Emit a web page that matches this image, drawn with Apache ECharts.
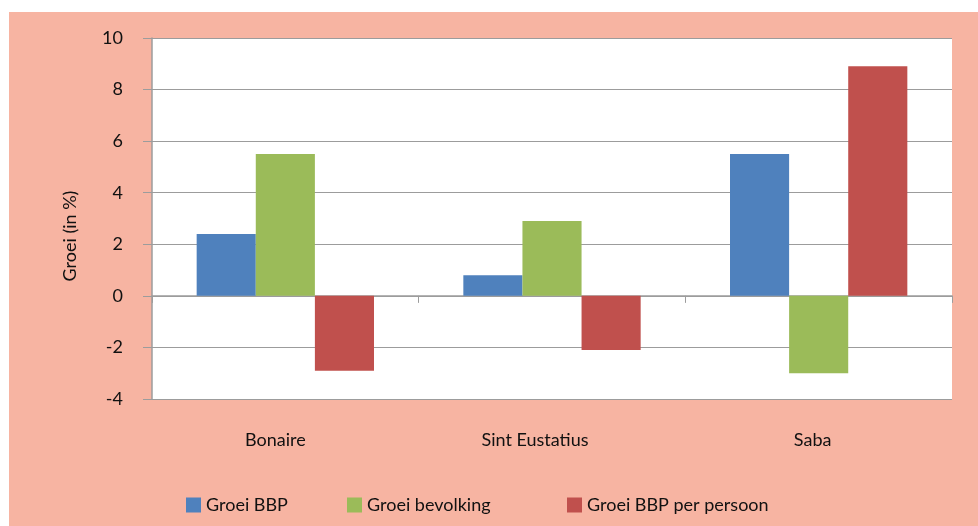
<!DOCTYPE html>
<html>
<head>
<meta charset="utf-8">
<script src="https://cdn.jsdelivr.net/npm/echarts@6/dist/echarts.min.js"></script>
<style>
  html, body { margin: 0; padding: 0; background: #fff; }
  #bg { position: absolute; left: 9px; top: 12px; width: 969px; height: 514px; background: #f7b4a2; }
  #chart { position: absolute; left: 0; top: 0; width: 978px; height: 526px; }
</style>
</head>
<body>
<div id="bg"></div>
<div id="chart"></div>
<script>
    "use strict";

    var islands = ['Bonaire', 'Sint Eustatius', 'Saba'];
    var groeiBBP = [2.4, 0.8, 5.5];
    var groeiBevolking = [5.5, 2.9, -3.0];
    var groeiBBPPerPersoon = [-2.9, -2.1, 8.9];
    var seriesNames = ['Groei BBP', 'Groei bevolking', 'Groei BBP per persoon'];
    var seriesColors = ['#4f81bd', '#9bbb59', '#c0504d'];

    var font = 'Lato, "Open Sans", sans-serif';
    var textColor = '#111';
    var lineColor = '#9c9c9c';
    var fontSize = 18;
    // labels in the original sit a bit left of the category centre
    var labelShiftLeft = [20, 34, 12];

    var chart = echarts.init(document.getElementById('chart'), null, {renderer: 'canvas'});

    function _map(arr, fn) {
        var out = [];
        for (var i = 0; i < arr.length; i++) {
            out.push(fn(arr[i], i));
        }
        return out;
    }

    var seriesData = [groeiBBP, groeiBevolking, groeiBBPPerPersoon];
    var series = _map(seriesData, function (values, i) {
        return {
            name: seriesNames[i],
            type: 'bar',
            data: values,
            barGap: '0%',
            barCategoryGap: '33.5%',
            itemStyle: {color: seriesColors[i]}
        };
    });

    var labelData = _map(islands, function (name, i) {
        return {value: name, textStyle: {padding: [0, labelShiftLeft[i], 0, 0]}};
    });

    // legend items are spaced unevenly in the original, so one legend per item
    var legendLeft = [186, 347, 567];
    var legends = _map(seriesNames, function (name, i) {
        return {
            left: legendLeft[i], top: 496,
            padding: 0,
            itemWidth: 15, itemHeight: 15, itemGap: 0,
            icon: 'rect',
            textStyle: {fontFamily: font, fontSize: fontSize, color: textColor},
            data: [name]
        };
    });

    chart.setOption({
        animation: false,
        backgroundColor: 'transparent',
        textStyle: {fontFamily: font, color: textColor},
        grid: {
            left: 152, right: 26, top: 38, bottom: 127,
            show: true, backgroundColor: '#fff', borderWidth: 0
        },
        legend: legends,
        graphic: [{
            type: 'text',
            x: 70, y: 236,
            rotation: Math.PI / 2,
            style: {
                text: 'Groei (in %)',
                fontFamily: font, fontSize: fontSize, fill: textColor,
                align: 'center', verticalAlign: 'middle'
            }
        }],
        xAxis: [{
            type: 'category',
            data: labelData,
            position: 'bottom',
            axisLine: {show: false, onZero: false},
            axisTick: {show: false},
            axisLabel: {margin: 32, fontSize: fontSize, color: textColor, fontFamily: font}
        }, {
            type: 'category',
            data: islands,
            position: 'top',
            axisLine: {show: true, onZero: true, lineStyle: {color: lineColor, width: 1.5}},
            axisTick: {show: true, inside: true, length: 7, lineStyle: {color: lineColor}},
            axisLabel: {show: false}
        }],
        yAxis: {
            type: 'value',
            min: -4, max: 10, interval: 2,
            axisLine: {show: true, lineStyle: {color: lineColor, width: 1.5}},
            axisTick: {show: true, length: 9, lineStyle: {color: lineColor}},
            axisLabel: {margin: 29, fontSize: fontSize, color: textColor, fontFamily: font},
            splitLine: {show: true, lineStyle: {color: lineColor, width: 1.2}}
        },
        series: series
    });
</script>
</body>
</html>
